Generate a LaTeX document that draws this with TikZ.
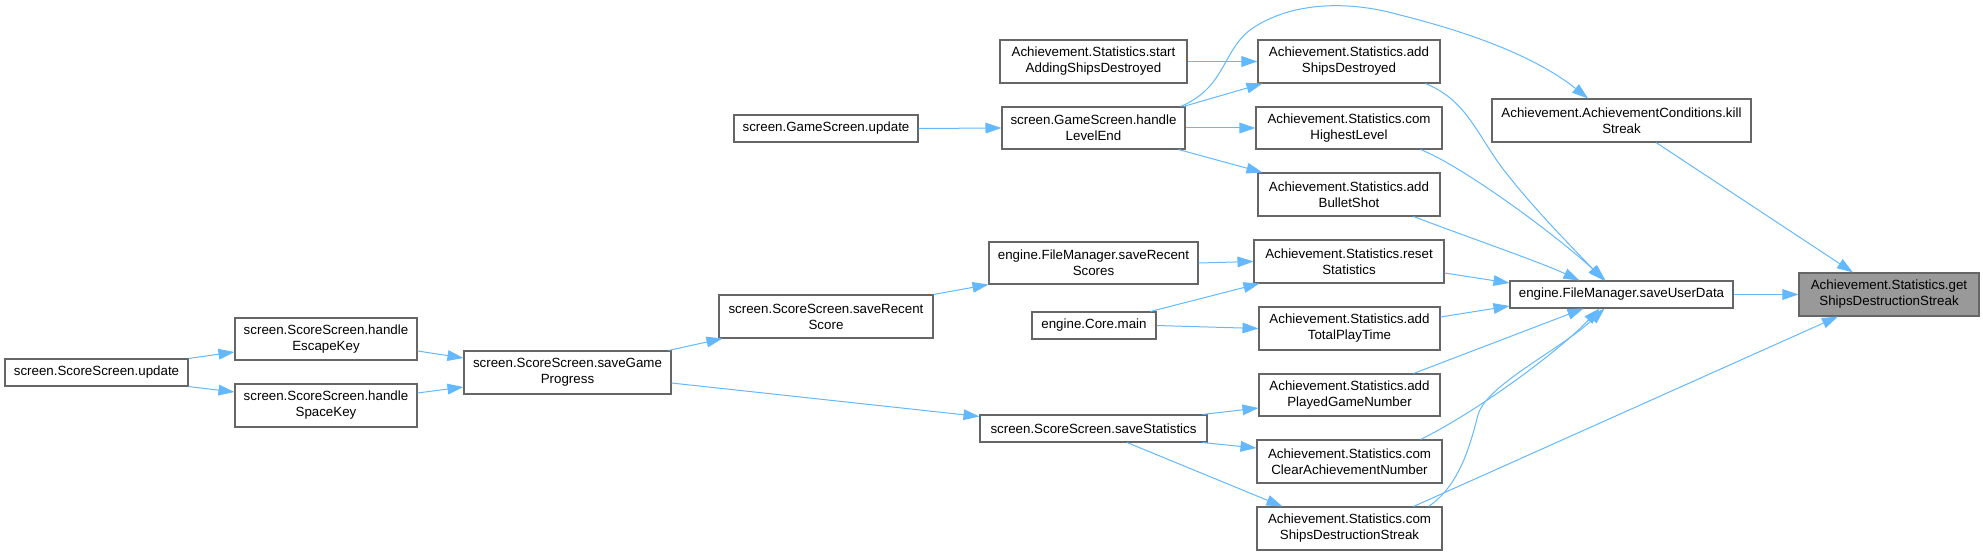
\documentclass[tikz,border=0pt]{standalone}
\usepackage{fontspec}
\setmainfont{Liberation Sans}
\usetikzlibrary{arrows.meta,calc}
\definecolor{edgeblue}{HTML}{63B8FF}
\definecolor{boxgray}{HTML}{666666}
\definecolor{hlfill}{HTML}{999999}
\newcommand{\DoxBox}[7][]{\node[dnode,#1,minimum width={(#5-#3)*0.75pt},minimum height={(#6-#4)*0.75pt}] (#2) at ({(#3+#5)/2},{(#4+#6)/2}) {#7};}
\begin{document}
\begin{tikzpicture}[x=0.75pt,y=-0.75pt,
  dnode/.style={draw=boxgray,fill=white,line width=0.8pt,inner sep=0pt,align=center,
    font=\fontsize{10pt}{12pt}\selectfont},
  hl/.style={fill=hlfill},
  edge/.style={draw=edgeblue,line width=0.75pt,-{Triangle[length=12pt,width=8pt]}}]
\useasboundingbox (0,0) rectangle (1983,555);
% nodes
\DoxBox{ssUpdate}{5}{359}{188}{386}{screen.ScoreScreen.update}
\DoxBox{escKey}{235}{318}{417}{360}{screen.ScoreScreen.handle\\EscapeKey}
\DoxBox{spaceKey}{235}{384}{417}{427}{screen.ScoreScreen.handle\\SpaceKey}
\DoxBox{sgp}{464}{351}{671}{394}{screen.ScoreScreen.saveGame\\Progress}
\DoxBox{srs}{719}{295}{933}{338}{screen.ScoreScreen.saveRecent\\Score}
\DoxBox{sst}{980}{415}{1207}{442}{screen.ScoreScreen.saveStatistics}
\DoxBox{gsu}{734}{115}{918}{142}{screen.GameScreen.update}
\DoxBox{hle}{1002}{107}{1185}{149}{screen.GameScreen.handle\\LevelEnd}
\DoxBox{sasd}{1000}{40}{1187}{83}{Achievement.Statistics.start\\AddingShipsDestroyed}
\DoxBox{fmsrs}{989}{242}{1198}{284}{engine.FileManager.saveRecent\\Scores}
\DoxBox{core}{1032}{312}{1156}{339}{engine.Core.main}
\DoxBox{asd}{1258}{40}{1440}{83}{Achievement.Statistics.add\\ShipsDestroyed}
\DoxBox{chl}{1256}{107}{1442}{149}{Achievement.Statistics.com\\HighestLevel}
\DoxBox{abs}{1258}{173}{1440}{216}{Achievement.Statistics.add\\BulletShot}
\DoxBox{rst}{1254}{240}{1444}{283}{Achievement.Statistics.reset\\Statistics}
\DoxBox{atpt}{1259}{307}{1440}{350}{Achievement.Statistics.add\\TotalPlayTime}
\DoxBox{apgn}{1259}{374}{1440}{416}{Achievement.Statistics.add\\PlayedGameNumber}
\DoxBox{ccan}{1257}{440}{1442}{483}{Achievement.Statistics.com\\ClearAchievementNumber}
\DoxBox{csds}{1257}{507}{1442}{550}{Achievement.Statistics.com\\ShipsDestructionStreak}
\DoxBox{ks}{1492}{99}{1751}{142}{Achievement.AchievementConditions.kill\\Streak}
\DoxBox{sud}{1510}{281}{1733}{308}{engine.FileManager.saveUserData}
\DoxBox[hl]{gsds}{1799}{273}{1979}{316}{Achievement.Statistics.get\\ShipsDestructionStreak}
% edges
\draw[edge] (ssUpdate.north east) -- ($(escKey.west)+(0,13)$);
\draw[edge] (ssUpdate.south east) -- ($(spaceKey.west)+(0,-13.5)$);
\draw[edge] ($(escKey.east)+(0,12)$) -- ($(sgp.west)+(0,-14.5)$);
\draw[edge] ($(spaceKey.east)+(0,-12.5)$) -- ($(sgp.west)+(0,14.5)$);
\draw[edge] ($(sgp.north east)+(-3,0)$) -- ($(srs.south west)+(4,0)$);
\draw[edge] ($(sgp.east)+(0,10.5)$) -- ($(sst.north west)+(0,2)$);
\draw[edge] (srs.north east) -- (fmsrs.south west);
\draw[edge] (fmsrs.east) -- (rst.west);
\draw[edge] ($(core.north east)+(-6,0)$) -- ($(rst.south west)+(6,0)$);
\draw[edge] (core.east) -- (atpt.west);
\draw[edge] (gsu.east) -- (hle.west);
\draw[edge] ($(hle.north east)+(-2,0)$) -- ($(asd.south west)+(5,0)$);
\draw[edge] (hle.east) -- (chl.west);
\draw[edge] ($(hle.south east)+(-7,0)$) -- ($(abs.north west)+(5,0)$);
\draw[edge] ($(hle.north east)+(-5,0)$) .. controls (1225,88) and (1222,52) .. (1250,30)
   .. controls (1285,5) and (1340,-2) .. (1400,15)
   .. controls (1480,35) and (1540,60) .. ($(ks.north)+(-33.5,0)$);
\draw[edge] (sasd.east) -- (asd.west);
\draw[edge] ($(sst.north east)+(-5,0)$) -- ($(apgn.west)+(0,13)$);
\draw[edge] ($(sst.south east)+(-5,0)$) -- ($(ccan.west)+(0,-13.5)$);
\draw[edge] ($(sst.south)+(33.5,0)$) -- ($(csds.north west)+(26,0)$);
\draw[edge] ($(asd.south east)+(-15,0)$) .. controls (1465,100) and (1475,130) .. (1500,165)
   .. controls (1530,205) and (1570,245) .. ($(sud.north)+(-18,0)$);
\draw[edge] ($(chl.south east)+(-22,0)$) .. controls (1460,165) and (1550,230) .. ($(sud.north)+(-16,0)$);
\draw[edge] ($(abs.south east)+(-27,0)$) .. controls (1470,238) and (1540,262) .. ($(sud.north)+(-42,0)$);
\draw[edge] ($(rst.east)+(0,11.5)$) -- ($(sud.west)+(0,-11.5)$);
\draw[edge] ($(atpt.east)+(0,-11.5)$) -- ($(sud.west)+(0,11.5)$);
\draw[edge] ($(apgn.north east)+(-27,0)$) -- ($(sud.south)+(-38,0)$);
\draw[edge] ($(ccan.north east)+(-22,0)$) .. controls (1480,410) and (1560,350) .. ($(sud.south)+(-22,0)$);
\draw[edge] ($(csds.north east)+(-14,0)$) .. controls (1460,485) and (1470,445) .. (1478,415)
   .. controls (1486,385) and (1560,350) .. ($(sud.south)+(-17,0)$);
\draw[edge] ($(csds.north east)+(-29,0)$) -- ($(gsds.south)+(-51,0)$);
\draw[edge] ($(ks.south)+(34.5,0)$) -- ($(gsds.north)+(-36,0)$);
\draw[edge] (sud.east) -- (gsds.west);
\end{tikzpicture}
\end{document}
